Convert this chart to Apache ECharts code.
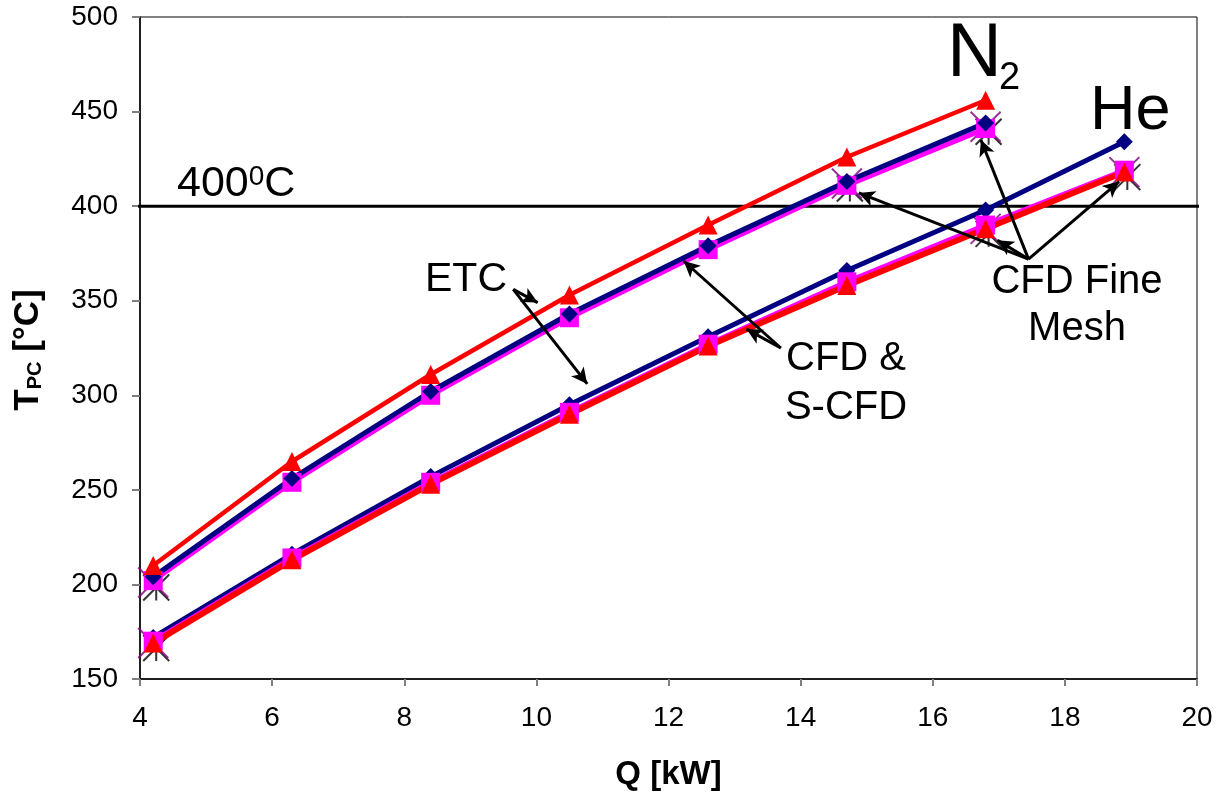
<!DOCTYPE html>
<html>
<head>
<meta charset="utf-8">
<script src="https://cdn.jsdelivr.net/npm/echarts@6/dist/echarts.min.js"></script>
<style>
  html, body { margin: 0; padding: 0; background: #fff; }
  #chart { width: 1222px; height: 797px; }
</style>
</head>
<body>
<div id="chart"></div>
<script>
// Heat load Q [kW]
const qN2 = [4.2, 6.3, 8.4, 10.5, 12.6, 14.7, 16.8];
const qHe = [4.2, 6.3, 8.4, 10.5, 12.6, 14.7, 16.8, 18.9];

// Peak cladding temperature T_PC [°C] - nitrogen
const n2Etc  = [210, 265, 311, 353, 390, 426, 456];
const n2Cfd  = [204, 256, 302, 343, 379, 413, 444];
const n2Scfd = [202, 254, 300, 341, 377, 411, 441];

// helium
const heCfd  = [172, 216, 257, 295, 331, 366, 398, 434];
const heScfd = [170, 214, 254, 291, 327, 360, 390, 419];
const heEtc  = [169, 213, 253, 290, 326, 358, 388, 418];

// CFD fine mesh checks
const fineQN2 = [4.2, 14.7, 16.8];
const fineN2  = [201, 412, 442];
const fineQHe = [4.2, 16.8, 18.9];
const fineHe  = [169, 388, 418];

const limitT = 400;

const FONT = '"Liberation Sans", Arial, sans-serif';
const RED = '#ff0000', BLUE = '#000080', MAGENTA = '#ff00ff', PURPLE = '#800080';

const pts = (xs, ys) => xs.map((x, i) => [x, ys[i]]);

// arrow annotations, [from, to] in data units
const arrows = [
  [[9.65, 356], [10.02, 349]],
  [[9.65, 356], [10.77, 306]],
  [[13.70, 325], [12.23, 371]],
  [[13.70, 325], [13.18, 335]],
  [[17.45, 372], [14.88, 407]],
  [[17.45, 372], [16.98, 382]],
  [[17.45, 372], [16.73, 435]],
  [[17.45, 372], [18.82, 413]]
];

function lineSeries(xs, ys, color, width, symbol, size) {
  return {
    type: 'line',
    data: pts(xs, ys),
    symbol: symbol,
    symbolSize: size,
    showSymbol: true,
    lineStyle: { color: color, width: width },
    itemStyle: { color: color },
    silent: true
  };
}

const XPATH = 'path://M0,0L10,10M10,0L0,10';
const STARPATH = 'path://M0,0L10,10M10,0L0,10M5,0L5,10';

function fineSeries(xs, ys, path, color, size, offset) {
  return {
    type: 'scatter',
    data: pts(xs, ys),
    symbol: path,
    symbolSize: size,
    symbolOffset: offset,
    itemStyle: { color: 'transparent', borderColor: color, borderWidth: 2 },
    silent: true
  };
}

const chart = echarts.init(document.getElementById('chart'));

const option = {
  animation: false,
  backgroundColor: '#fff',
  grid: {
    left: 140, right: 25, top: 17, bottom: 118,
    show: true, borderColor: '#000', borderWidth: 1
  },
  xAxis: {
    type: 'value', min: 4, max: 20, interval: 2,
    name: 'Q [kW]', nameLocation: 'middle', nameGap: 79,
    nameTextStyle: { fontFamily: FONT, fontSize: 33, fontWeight: 'bold', color: '#000' },
    axisLine: { show: true, lineStyle: { color: '#000', width: 1.5 } },
    axisTick: { show: true, length: 7, lineStyle: { color: '#808080', width: 2 } },
    axisLabel: { fontFamily: FONT, fontSize: 28, color: '#000', margin: 25 },
    splitLine: { show: false }
  },
  yAxis: {
    type: 'value', min: 150, max: 500, interval: 50,
    axisLine: { show: true, lineStyle: { color: '#000', width: 1.5 } },
    axisTick: { show: true, length: 8, lineStyle: { color: '#808080', width: 2 } },
    axisLabel: { fontFamily: FONT, fontSize: 28, color: '#000', margin: 22 },
    splitLine: { show: false }
  },
  series: [
    {
      type: 'line',
      data: [[3.77, limitT], [20.24, limitT]],
      symbol: 'none',
      clip: false,
      lineStyle: { color: '#000', width: 3 },
      silent: true,
      markLine: {
        silent: true,
        symbol: ['none', 'arrow'],
        symbolSize: [12, 16],
        label: { show: false },
        lineStyle: { color: '#000', width: 3, type: 'solid' },
        data: arrows.map(a => [{ coord: a[0] }, { coord: a[1] }])
      }
    },
    lineSeries(qN2, n2Scfd, MAGENTA, 5, 'rect', 19),
    lineSeries(qN2, n2Cfd, BLUE, 5, 'diamond', 17),
    lineSeries(qN2, n2Etc, RED, 4.5, 'triangle', 19),
    lineSeries(qHe, heCfd, BLUE, 5, 'diamond', 17),
    lineSeries(qHe, heScfd, MAGENTA, 5, 'rect', 19),
    lineSeries(qHe, heEtc, RED, 6, 'triangle', 19),
    fineSeries(fineQN2, fineN2, STARPATH, '#000', 26, [3, 5]),
    fineSeries(fineQHe, fineHe, STARPATH, '#000', 26, [3, 5]),
    fineSeries(fineQN2, fineN2, XPATH, PURPLE, 30, [0, 0]),
    fineSeries(fineQHe, fineHe, XPATH, PURPLE, 30, [0, 0])
  ],
  graphic: [
    {
      type: 'text', left: 177, top: 163, silent: true,
      style: {
        text: '{n|400}{s|0}{n|C}',
        rich: {
          n: { fontFamily: FONT, fontSize: 43, lineHeight: 43, fill: '#000', verticalAlign: 'bottom' },
          s: { fontFamily: FONT, fontSize: 28, lineHeight: 28, fill: '#000', verticalAlign: 'top' }
        }
      }
    },
    {
      type: 'text', left: 947, top: 17, silent: true,
      style: { text: 'N', fontFamily: FONT, fontSize: 76, fill: '#000' }
    },
    {
      type: 'text', left: 999, top: 60, silent: true,
      style: { text: '2', fontFamily: FONT, fontSize: 38, fill: '#000' }
    },
    {
      type: 'text', left: 1090, top: 80, silent: true,
      style: { text: 'He', fontFamily: FONT, fontSize: 63, fill: '#000' }
    },
    {
      type: 'text', left: 425, top: 259, silent: true,
      style: { text: 'ETC', fontFamily: FONT, fontSize: 41, fill: '#000' }
    },
    {
      type: 'text', x: 846, y: 334, silent: true,
      style: { text: 'CFD &\nS-CFD', fontFamily: FONT, fontSize: 40, lineHeight: 49, fill: '#000', align: 'center' }
    },
    {
      type: 'text', x: 1077, y: 258, silent: true,
      style: { text: 'CFD Fine\nMesh', fontFamily: FONT, fontSize: 40, lineHeight: 47, fill: '#000', align: 'center' }
    },
    {
      type: 'text', x: 28, y: 350, rotation: Math.PI / 2, silent: true,
      style: {
        text: '{t|T}{s|PC}{t| [°C]}',
        align: 'center', verticalAlign: 'middle',
        rich: {
          t: { fontFamily: FONT, fontSize: 35, fontWeight: 'bold', lineHeight: 35, fill: '#000' },
          s: { fontFamily: FONT, fontSize: 20, fontWeight: 'bold', lineHeight: 8, fill: '#000', verticalAlign: 'bottom' }
        }
      }
    }
  ]
};

chart.setOption(option);
</script>
</body>
</html>
